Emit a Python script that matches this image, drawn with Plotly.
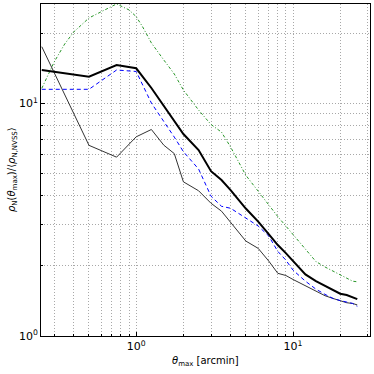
import plotly.graph_objects as go

# theta_max [arcmin]
theta = [0.25, 0.5, 0.75, 1.0, 1.25, 1.5, 1.75, 2.0, 2.5, 3.0, 3.5, 4.0, 5.0, 6.0,
         7.0, 8.0, 9.0, 10.0, 12.0, 14.0, 16.0, 18.0, 20.0, 22.0, 24.0, 25.7]

thick = [13.91, 13.02, 14.62, 14.15, 11.64, 9.78, 8.48, 7.38, 6.30, 5.11, 4.68, 4.24, 3.53, 3.10,
         2.74, 2.46, 2.27, 2.10, 1.84, 1.72, 1.64, 1.57, 1.52, 1.50, 1.47, 1.44]
dashed = [11.49, 11.49, 13.91, 13.71, 10.03, 8.39, 7.16, 6.20, 5.22, 3.99, 3.61, 3.54, 3.21, 2.97,
          2.69, 2.31, 2.12, 1.92, 1.72, 1.59, 1.51, 1.45, 1.42, 1.40, 1.38, 1.34]
thin = [17.52, 6.60, 5.87, 7.18, 7.72, 6.61, 6.08, 4.60, 4.21, 3.72, 3.44, 3.09, 2.56, 2.38,
        2.10, 1.86, 1.82, 1.75, 1.64, 1.56, 1.49, 1.45, 1.42, 1.39, 1.38, 1.36]

theta_g = [0.25, 0.3, 0.35, 0.4, 0.5, 0.6, 0.75, 0.9, 1.0, 1.1, 1.25, 1.5, 1.75, 2.0, 2.5, 3.0,
           3.5, 4.0, 5.0, 6.0, 7.0, 8.0, 9.0, 10.0, 12.0, 14.0, 16.0, 18.0, 20.0, 22.0, 24.0, 25.7]
green = [11.60, 15.06, 17.99, 20.27, 23.28, 24.71, 26.75, 25.21, 23.59, 21.30, 18.18, 15.36, 13.37,
         11.41, 9.36, 8.11, 7.52, 6.49, 4.91, 4.19, 3.65, 3.26, 2.97, 2.73, 2.34, 2.09, 1.98, 1.90,
         1.82, 1.76, 1.72, 1.71]

xmajor = [1, 10]
xminor = [0.3, 0.4, 0.5, 0.6, 0.7, 0.8, 0.9, 2, 3, 4, 5, 6, 7, 8, 9, 20, 30]
ymajor = [1, 10]
yminor = [2, 3, 4, 5, 6, 7, 8, 9, 20]
ticklab = ['10<sup>0</sup>', '10<sup>1</sup>']

fig = go.Figure()
fig.add_trace(go.Scatter(x=theta_g, y=green, mode='lines',
                         line=dict(color='rgb(40,150,40)', width=1, dash='3px,2px,1px,2px')))
fig.add_trace(go.Scatter(x=theta, y=thin, mode='lines',
                         line=dict(color='#333333', width=1)))
fig.add_trace(go.Scatter(x=theta, y=dashed, mode='lines',
                         line=dict(color='blue', width=1, dash='4px,3px')))
fig.add_trace(go.Scatter(x=theta, y=thick, mode='lines',
                         line=dict(color='black', width=2)))

grid = dict(showgrid=True, gridcolor='#a8a8a8', griddash='1px,2px', gridwidth=1)

fig.update_layout(
    width=374, height=374, showlegend=False,
    paper_bgcolor='white', plot_bgcolor='white',
    margin=dict(l=41, r=4, t=4, b=38),
    font=dict(family='DejaVu Sans', size=11, color='black'),
    xaxis=dict(type='log', range=[-0.607, 1.491], automargin=False,
               tickmode='array', tickvals=xmajor, ticktext=ticklab, **grid,
               minor=dict(tickvals=xminor, ticks='inside', ticklen=2, tickcolor='black', **grid),
               showline=True, linecolor='black', linewidth=1, mirror=True,
               ticks='inside', ticklen=4, tickcolor='black', zeroline=False),
    yaxis=dict(type='log', range=[0, 1.427], automargin=False,
               tickmode='array', tickvals=ymajor, ticktext=ticklab, **grid,
               minor=dict(tickvals=yminor, ticks='inside', ticklen=2, tickcolor='black', **grid),
               showline=True, linecolor='black', linewidth=1, mirror=True,
               ticks='inside', ticklen=4, tickcolor='black', zeroline=False),
    annotations=[
        dict(text='<i>θ</i><sub>max</sub> [arcmin]', xref='paper', yref='paper',
             x=0.5, y=-0.078, xanchor='center', yanchor='middle', showarrow=False,
             font=dict(size=10)),
        dict(text='<i>ρ</i><sub>N</sub>(<i>θ</i><sub>max</sub>)/⟨<i>ρ</i><sub>N,NVSS</sub>⟩',
             xref='paper', yref='paper', x=-0.088, y=0.5, xanchor='center', yanchor='middle',
             textangle=-90, showarrow=False, font=dict(size=10)),
    ],
)

fig.write_html("out.html", config={'displayModeBar': False},
               post_script="document.body.style.margin='0';")
